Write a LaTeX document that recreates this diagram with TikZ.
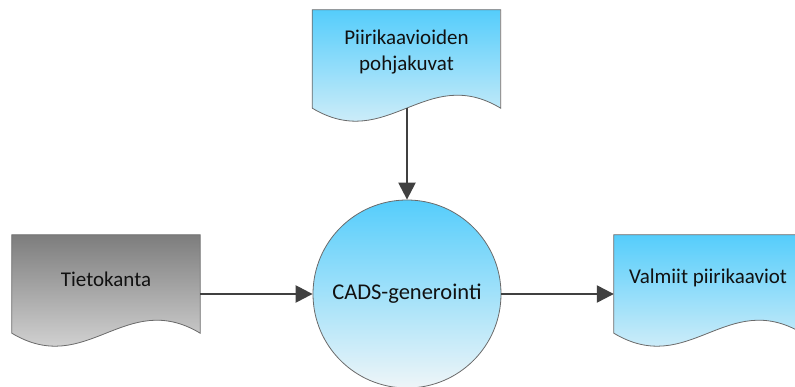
\documentclass[tikz,border=0pt]{standalone}
\usepackage{fontspec}
\setmainfont{Carlito}
\usetikzlibrary{arrows.meta}

\definecolor{blueTop}{HTML}{55CDFB}
\definecolor{blueBot}{HTML}{EEF5F8}
\definecolor{grayTop}{HTML}{7D7D7D}
\definecolor{grayBot}{HTML}{E8E8E8}
\definecolor{edgec}{HTML}{6A6A6A}
\definecolor{arrowc}{HTML}{404040}
\definecolor{textc}{HTML}{111111}

\tikzset{
  docnode/.style={draw=none, inner sep=0pt, minimum width=188pt, minimum height=98pt},
  doctext/.style={text=textc, align=center, font=\fontsize{21}{25.5}\selectfont, inner sep=0pt},
  arr/.style={draw=arrowc, line width=2.4pt, -{Triangle[length=17pt,width=17pt]}},
  docedge/.style={draw=edgec, line width=0.8pt},
  shadowc/.style={fill=black, opacity=0.12},
}

% #1 node name
\newcommand{\DocOutline}[1]{(#1.north west) -- (#1.north east) -- (#1.south east)
  .. controls +(-75,-45) and +(75,45) .. (#1.south west) -- cycle}

\begin{document}
\begin{tikzpicture}[x=1pt,y=-1pt]
\useasboundingbox (0,0) rectangle (795,387);

% nodes (geometry)
\node[docnode] (pk) at (406.5,59) {};
\node[docnode] (tk) at (106,284) {};
\node[docnode] (vp) at (708,284) {};

% shadows
\foreach \n in {pk,tk,vp}{
  \fill[shadowc, shift={(2,4)}] \DocOutline{\n};
}

% document shapes
\path[docedge, top color=blueTop, bottom color=blueBot] \DocOutline{pk};
\path[docedge, top color=grayTop, bottom color=grayBot] \DocOutline{tk};
\path[docedge, top color=blueTop, bottom color=blueBot] \DocOutline{vp};

% circle
\node[circle, minimum size=188pt, inner sep=0pt, draw=edgec, line width=0.8pt,
      top color=blueTop, bottom color=blueBot] (cads) at (407,294) {};

% texts
\node[doctext] (pkt) at (406.5,52) {Piirikaavioiden\\pohjakuvat};
\node[doctext] (tkt) at (106,279) {Tietokanta};
\node[doctext] (vpt) at (708,278) {Valmiit piirikaaviot};
\node[doctext, font=\fontsize{22.5}{26}\selectfont] (cadst) at (cads.center) {CADS-generointi};

% arrows
\draw[arr] (pk.south -| cads.north) -- (cads.north);
\draw[arr] (tk.east |- cads.west) -- (cads.west);
\draw[arr] (cads.east) -- (vp.west |- cads.east);
\end{tikzpicture}
\end{document}
